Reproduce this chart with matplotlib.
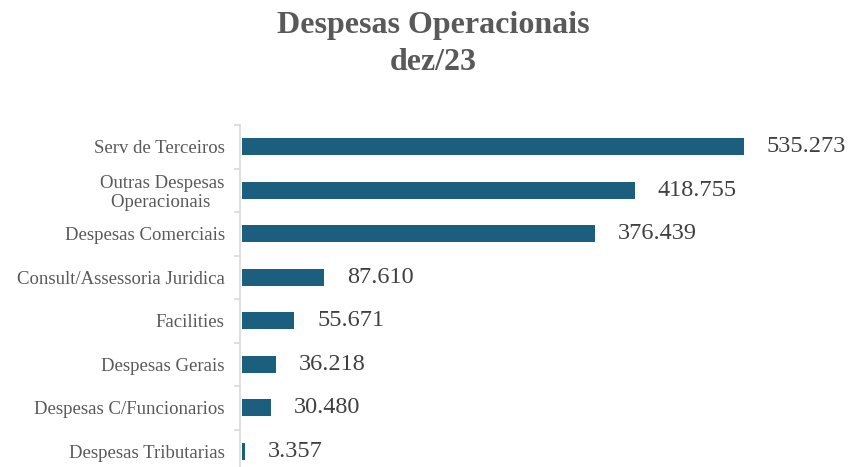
import matplotlib

matplotlib.use("Agg")

import matplotlib.pyplot as plt  # noqa: E402
import numpy as np  # noqa: E402

categories = [
    "Serv de Terceiros",
    "Outras Despesas\nOperacionais ",
    "Despesas Comerciais",
    "Consult/Assessoria Juridica",
    "Facilities",
    "Despesas Gerais",
    "Despesas C/Funcionarios",
    "Despesas Tributarias",
]
values = [535273, 418755, 376439, 87610, 55671, 36218, 30480, 3357]

_BAR_COLOR = "#1b5e7e"
_SPINE_COLOR = "#d9d9d9"
_LABEL_COLOR = "#595959"
_VALUE_COLOR = "#404040"

plt.rcParams["font.family"] = ["Liberation Serif", "DejaVu Serif"]

fig = plt.figure(figsize=(8.48, 4.67), dpi=100)
ax = fig.add_axes([240 / 848, -6 / 467, 563 / 848, 348 / 467])

y = np.arange(len(categories))
ax.barh(y, values, height=0.4, color=_BAR_COLOR)
ax.set_ylim(len(categories) - 0.5, -0.5)
ax.set_xlim(-2100, 598200)

# value labels with '.' as thousands separator
for yi, v in zip(y, values):
    ax.annotate(f"{v:,}".replace(",", "."), (v, yi), xytext=(16.5, 0),
                textcoords="offset points", va="center", ha="left",
                fontsize=17.5, color=_VALUE_COLOR)

ax.set_yticks(y)
ax.set_yticklabels(categories, fontsize=13.5, color=_LABEL_COLOR,
                   multialignment="center", linespacing=1.1)
ax.tick_params(axis="y", length=0, pad=11)
# boundary ticks between categories
ax.set_yticks(np.arange(len(categories) + 1) - 0.5, minor=True)
ax.tick_params(axis="y", which="minor", length=4, color=_SPINE_COLOR,
               width=1.2)
ax.set_xticks([])
for side in ("top", "right", "bottom"):
    ax.spines[side].set_visible(False)
ax.spines["left"].set_color(_SPINE_COLOR)
ax.spines["left"].set_linewidth(1.2)

fig.text(433 / 848, 1 - 44 / 467, "Despesas Operacionais\ndez/23",
         ha="center", va="center", fontsize=23, fontweight="bold",
         color=_LABEL_COLOR, linespacing=1.4)

fig.savefig("out.png", dpi=100)
plt.close(fig)
